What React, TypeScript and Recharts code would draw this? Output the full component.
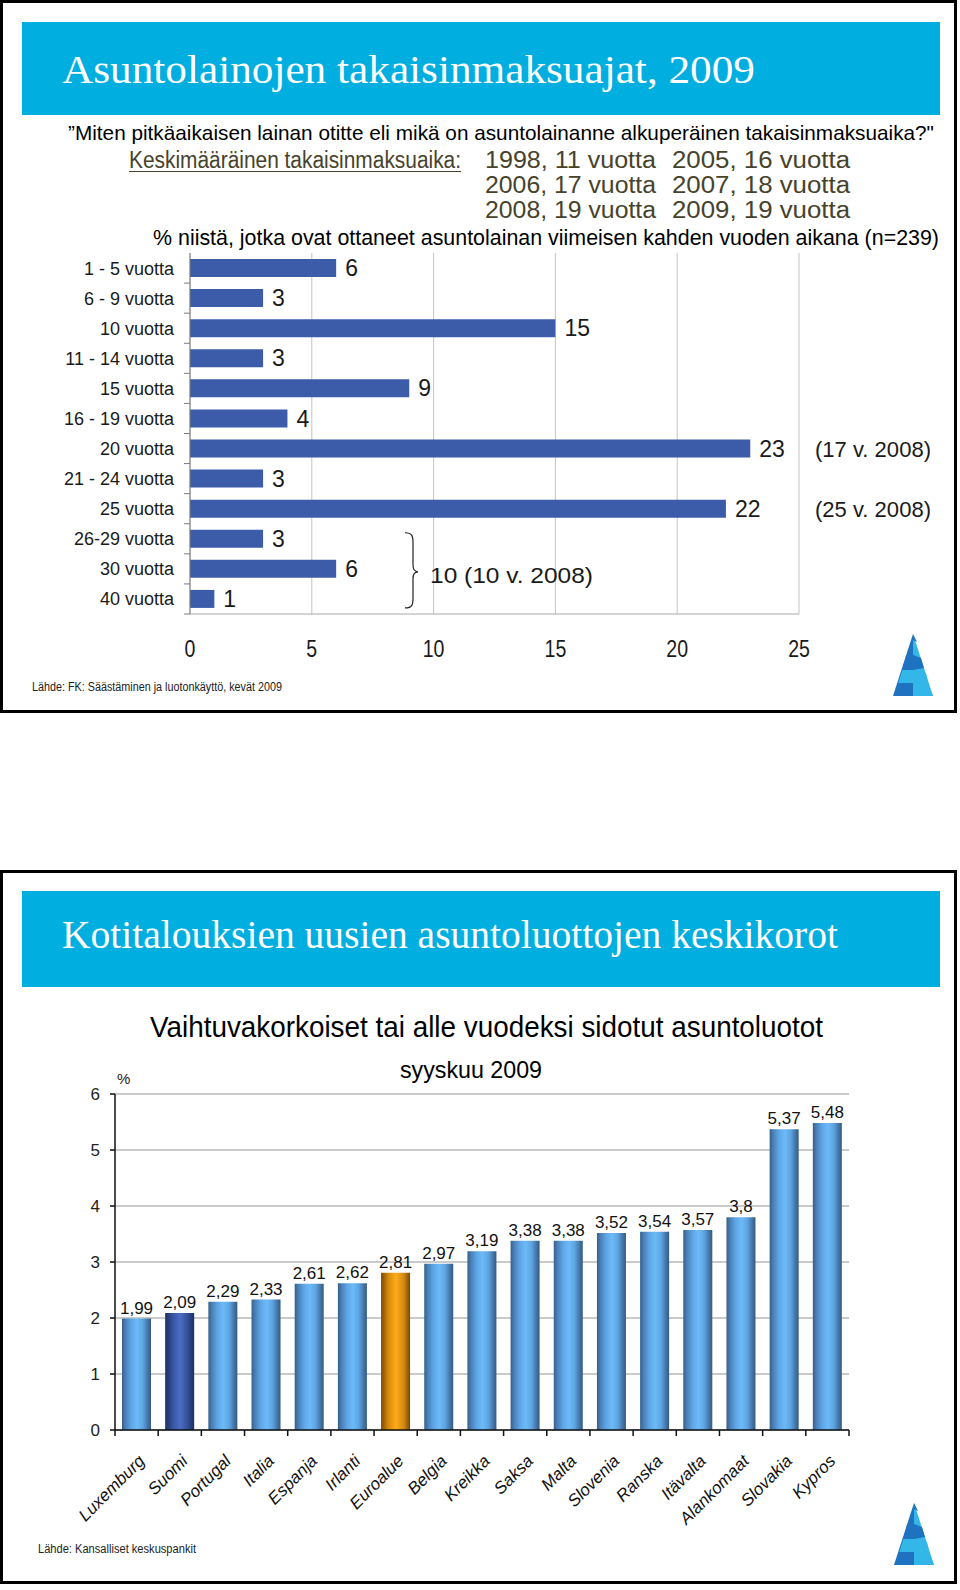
import React from 'react';
import { BarChart, Bar, XAxis, YAxis, CartesianGrid, LabelList, Cell } from 'recharts';

// ---------- Data: chart 1 (loan terms) ----------
const termCategories = ['1 - 5 vuotta', '6 - 9 vuotta', '10 vuotta', '11 - 14 vuotta', '15 vuotta', '16 - 19 vuotta', '20 vuotta', '21 - 24 vuotta', '25 vuotta', '26-29 vuotta', '30 vuotta', '40 vuotta'];
const termShares = [6, 3, 15, 3, 9, 4, 23, 3, 22, 3, 6, 1];
const termSideNotes = ['', '', '', '', '', '', '(17 v. 2008)', '', '(25 v. 2008)', '', '', ''];
const termGroupNotes = ['', '', '', '', '', '', '', '', '', '', '10 (10 v. 2008)', ''];
const termTicks = [0, 5, 10, 15, 20, 25];

const avgTermRows = [
  ['1998, 11 vuotta', '2005, 16 vuotta'],
  ['2006, 17 vuotta', '2007, 18 vuotta'],
  ['2008, 19 vuotta', '2009, 19 vuotta'],
];

// ---------- Data: chart 2 (interest rates) ----------
const countries = ['Luxemburg', 'Suomi', 'Portugal', 'Italia', 'Espanja', 'Irlanti', 'Euroalue', 'Belgia', 'Kreikka', 'Saksa', 'Malta', 'Slovenia', 'Ranska', 'Itävalta', 'Alankomaat', 'Slovakia', 'Kypros'];
const rates = [1.99, 2.09, 2.29, 2.33, 2.61, 2.62, 2.81, 2.97, 3.19, 3.38, 3.38, 3.52, 3.54, 3.57, 3.8, 5.37, 5.48];
const rateTicks = [0, 1, 2, 3, 4, 5, 6];
const homeCountry = 'Suomi';
const euroArea = 'Euroalue';

const termData = termCategories.map((name, i) => ({
  name,
  value: termShares[i],
  sideNote: termSideNotes[i],
  groupNote: termGroupNotes[i],
}));
const rateData = countries.map((name, i) => ({ name, value: rates[i] }));

// ---------- Layout ----------
const SANS = "'Liberation Sans', Arial, sans-serif";
const NARROW = "'Liberation Sans Narrow', 'Arial Narrow', 'Liberation Sans', Arial, sans-serif";
const SERIF = "'Liberation Serif', 'Times New Roman', serif";
const CYAN = '#00AEE0';

const C1_TOP = 240;
const C1_H = 440;
const C1_MARGIN = { top: 13, right: 161, bottom: 16, left: 0 };
const C1_YW = 190;
const C1_XH = 50;
const C1_PLOT_H = C1_H - C1_MARGIN.top - C1_MARGIN.bottom - C1_XH;
const C1_PLOT_RIGHT = 960 - C1_MARGIN.right;

const C2_TOP = 1080;
const C2_H = 460;
const C2_MARGIN = { top: 14, right: 111, bottom: 10, left: 0 };
const C2_YW = 115;
const C2_XH = 100;
const C2_PLOT_W = 960 - C2_MARGIN.right - C2_MARGIN.left - C2_YW;

const TermTick = (props: any) => {
  const { x, y, payload, index } = props;
  const band = C1_PLOT_H / termCategories.length;
  const last = index === termCategories.length - 1;
  return (
    <g>
      {index > 0 && <line x1={x - 6} x2={x} y1={y - band / 2} y2={y - band / 2} stroke="#7a7a7a" strokeWidth={1} />}
      {last && <line x1={x - 6} x2={x} y1={y + band / 2} y2={y + band / 2} stroke="#7a7a7a" strokeWidth={1} />}
      <text x={x - 16} y={y + 6.5} textAnchor="end" fontSize={18} fill="#1a1a1a" fontFamily={SANS}>
        {payload.value}
      </text>
    </g>
  );
};

const ShareTick = (props: any) => {
  const { x, y, payload } = props;
  return (
    <text transform={`translate(${x},${y + 43}) scale(0.85,1)`} textAnchor="middle" fontSize={23} fill="#1a1a1a" fontFamily={NARROW}>
      {payload.value}
    </text>
  );
};

const getBox = (props: any) => {
  const vb = props.viewBox && typeof props.viewBox.y === 'number' ? props.viewBox : props;
  return { x: Number(vb.x), y: Number(vb.y), width: Number(vb.width), height: Number(vb.height) };
};

const SideNote = (props: any) => {
  const { value } = props;
  if (!value) return null;
  const b = getBox(props);
  const cy = b.y + b.height / 2;
  return (
    <text x={C1_PLOT_RIGHT + 16} y={cy + 8} fontSize={22} fill="#1a1a1a" fontFamily={SANS} textLength={116} lengthAdjust="spacingAndGlyphs">
      {value}
    </text>
  );
};

const GroupNote = (props: any) => {
  const { value } = props;
  if (!value) return null;
  const b = getBox(props);
  const band = C1_PLOT_H / termCategories.length;
  const cy = b.y + b.height / 2;
  const x0 = 405;
  const y0 = cy - band * 1.2;
  const y1 = cy + band * 1.3;
  const ym = cy + 3;
  const d = `M ${x0} ${y0} C ${x0 + 7} ${y0} ${x0 + 8} ${y0 + 3} ${x0 + 8} ${y0 + 10} L ${x0 + 8} ${ym - 7} C ${x0 + 8} ${ym - 2} ${x0 + 10} ${ym} ${x0 + 13} ${ym} C ${x0 + 10} ${ym} ${x0 + 8} ${ym + 2} ${x0 + 8} ${ym + 7} L ${x0 + 8} ${y1 - 10} C ${x0 + 8} ${y1 - 3} ${x0 + 7} ${y1} ${x0} ${y1}`;
  return (
    <g>
      <path d={d} fill="none" stroke="#222" strokeWidth={1.2} />
      <text x={x0 + 25} y={cy + 14} fontSize={22} fill="#1a1a1a" fontFamily={SANS} textLength={163} lengthAdjust="spacingAndGlyphs">
        {value}
      </text>
    </g>
  );
};

const CountryTick = (props: any) => {
  const { x, y, payload, index } = props;
  const band = C2_PLOT_W / countries.length;
  const last = index === countries.length - 1;
  return (
    <g>
      <line x1={x - band / 2} x2={x - band / 2} y1={y} y2={y + 6} stroke="#111" strokeWidth={1.5} />
      {last && <line x1={x + band / 2} x2={x + band / 2} y1={y} y2={y + 6} stroke="#111" strokeWidth={1.5} />}
      <text transform={`translate(${x + 9},${y + 32}) rotate(-45)`} textAnchor="end" fontSize={17} fontStyle="italic" fill="#111" fontFamily={SANS}>
        {payload.value}
      </text>
    </g>
  );
};

const barFill = (name: string) =>
  name === homeCountry ? 'url(#gSuomi)' : name === euroArea ? 'url(#gEuro)' : 'url(#gBlue)';

const Logo = ({ left, top }: { left: number; top: number }) => (
  <svg style={{ position: 'absolute', left, top }} width={44} height={64} viewBox="0 0 44 64">
    <polygon points="22,0 2,62 22,62" fill="#1f72c0" />
    <polygon points="22,0 42,62 22,62" fill="#33b6e8" />
    <polygon points="22,0 26,8 22,6" fill="#1f72c0" />
    <polygon points="15.2,21 22,21 30,24 33,34 22,36 11.4,36" fill="#1f72c0" />
    <polygon points="11.4,36 22,36 35,39 37,49 22,49 7.2,49" fill="#33b6e8" />
    <polygon points="22,49 37,50 42,62 22,62" fill="#33b6e8" />
  </svg>
);

const W = (t: string, len: number, x: number, y: number, size: number, extra: any = {}) => (
  <text x={x} y={y} fontSize={size} textLength={len} lengthAdjust="spacingAndGlyphs" {...extra}>
    {t}
  </text>
);

export default function App() {
  return (
    <div style={{ position: 'relative', width: 960, height: 1590, background: '#fff', overflow: 'hidden' }}>
      <style>{`body{margin:0;padding:0;background:#fff}`}</style>
      <svg width={0} height={0} style={{ position: 'absolute' }}>
        <defs>
          <linearGradient id="gBlue" x1="0" y1="0" x2="1" y2="0">
            <stop offset="0%" stopColor="#365f8a" />
            <stop offset="12%" stopColor="#4a7fb6" />
            <stop offset="32%" stopColor="#5ea6e6" />
            <stop offset="52%" stopColor="#6dbaf8" />
            <stop offset="72%" stopColor="#5ea4e2" />
            <stop offset="88%" stopColor="#4678ab" />
            <stop offset="100%" stopColor="#335a82" />
          </linearGradient>
          <linearGradient id="gSuomi" x1="0" y1="0" x2="1" y2="0">
            <stop offset="0%" stopColor="#1c2f63" />
            <stop offset="30%" stopColor="#3b59a8" />
            <stop offset="52%" stopColor="#4c6cc4" />
            <stop offset="75%" stopColor="#36529c" />
            <stop offset="100%" stopColor="#1c2f63" />
          </linearGradient>
          <linearGradient id="gEuro" x1="0" y1="0" x2="1" y2="0">
            <stop offset="0%" stopColor="#7a4806" />
            <stop offset="25%" stopColor="#d68a0c" />
            <stop offset="52%" stopColor="#ffab1a" />
            <stop offset="78%" stopColor="#d38a10" />
            <stop offset="100%" stopColor="#7a4806" />
          </linearGradient>
        </defs>
      </svg>

      {/* Panel frames */}
      <div style={{ position: 'absolute', left: 0, top: 0, width: 957, height: 713, border: '3px solid #000', boxSizing: 'border-box' }} />
      <div style={{ position: 'absolute', left: 22, top: 22, width: 918, height: 93, background: CYAN }} />
      <div style={{ position: 'absolute', left: 0, top: 870, width: 957, height: 714, border: '3px solid #000', boxSizing: 'border-box' }} />
      <div style={{ position: 'absolute', left: 22, top: 891, width: 918, height: 96, background: CYAN }} />

      {/* Texts */}
      <svg style={{ position: 'absolute', left: 0, top: 0 }} width={960} height={1590}>
        {W('Asuntolainojen takaisinmaksuajat, 2009', 693, 62, 83, 41, { fill: '#fff', fontFamily: SERIF })}
        {W('”Miten pitkäaikaisen lainan otitte eli mikä on asuntolainanne alkuperäinen takaisinmaksuaika?"', 866, 68, 140, 21, { fill: '#000', fontFamily: NARROW })}
        {W('Keskimääräinen takaisinmaksuaika:', 332, 129, 168, 23, { fill: '#46422c', fontFamily: NARROW })}
        <line x1={129} x2={461} y1={171.5} y2={171.5} stroke="#46422c" strokeWidth={1.2} />
        {avgTermRows.map((row, i) => (
          <g key={i}>
            {W(row[0], 171, 485, 168 + i * 25, 23, { fill: '#46422c', fontFamily: NARROW })}
            {W(row[1], 178, 672, 168 + i * 25, 23, { fill: '#46422c', fontFamily: NARROW })}
          </g>
        ))}
        {W('% niistä, jotka ovat ottaneet asuntolainan viimeisen kahden vuoden aikana (n=239)', 786, 153, 245, 22, { fill: '#000', fontFamily: NARROW })}
        {W('Lähde: FK: Säästäminen ja luotonkäyttö, kevät 2009', 250, 32, 691, 12, { fill: '#222', fontFamily: NARROW })}

        {W('Kotitalouksien uusien asuntoluottojen keskikorot', 776, 62, 948, 41, { fill: '#fff', fontFamily: SERIF })}
        {W('Vaihtuvakorkoiset tai alle vuodeksi sidotut asuntoluotot', 673, 150, 1037, 29, { fill: '#000', fontFamily: NARROW })}
        {W('syyskuu 2009', 142, 400, 1078, 24, { fill: '#000', fontFamily: NARROW })}
        <text x={117} y={1084} fontSize={15} fill="#222" fontFamily={SANS}>%</text>
        {W('Lähde: Kansalliset keskuspankit', 158, 38, 1553, 12, { fill: '#222', fontFamily: NARROW })}
      </svg>

      <Logo left={891} top={634} />
      <Logo left={892} top={1503} />

      {/* Chart 1 */}
      <div style={{ position: 'absolute', left: 0, top: C1_TOP }}>
        <BarChart width={960} height={C1_H} data={termData} layout="vertical" margin={C1_MARGIN}>
          <CartesianGrid horizontal={false} vertical={true} stroke="#c4c4c4" />
          <XAxis
            type="number"
            domain={[0, 25]}
            ticks={termTicks}
            height={C1_XH}
            axisLine={{ stroke: '#a8a8a8' }}
            tickLine={false}
            tickSize={0}
            tickMargin={0}
            tick={<ShareTick />}
            interval={0}
          />
          <YAxis
            type="category"
            dataKey="name"
            width={C1_YW}
            axisLine={{ stroke: '#7a7a7a' }}
            tickLine={false}
            tickSize={0}
            tickMargin={0}
            tick={<TermTick />}
            interval={0}
          />
          <Bar dataKey="value" fill="#3C5BA9" barSize={18} isAnimationActive={false}>
            <LabelList dataKey="value" position="right" offset={9} style={{ fontSize: 23, fill: '#1a1a1a', fontFamily: SANS }} />
            <LabelList dataKey="sideNote" content={<SideNote />} />
            <LabelList dataKey="groupNote" content={<GroupNote />} />
          </Bar>
        </BarChart>
      </div>

      {/* Chart 2 */}
      <div style={{ position: 'absolute', left: 0, top: C2_TOP }}>
        <BarChart width={960} height={C2_H} data={rateData} margin={C2_MARGIN}>
          <CartesianGrid horizontal={true} vertical={false} stroke="#b8b8b8" strokeWidth={1.5} />
          <XAxis
            dataKey="name"
            height={C2_XH}
            interval={0}
            axisLine={{ stroke: '#111', strokeWidth: 1.5 }}
            tickLine={false}
            tickSize={0}
            tickMargin={0}
            tick={<CountryTick />}
          />
          <YAxis
            domain={[0, 6]}
            ticks={rateTicks}
            width={C2_YW}
            axisLine={{ stroke: '#111', strokeWidth: 1.5 }}
            tickLine={{ stroke: '#111', strokeWidth: 1.5 }}
            tickSize={5}
            tickMargin={10}
            tick={{ fontSize: 17, fill: '#222', fontFamily: SANS }}
            interval={0}
          />
          <YAxis
            yAxisId="frame"
            orientation="right"
            width={0}
            domain={[0, 1]}
            axisLine={{ stroke: '#a8a8a8', strokeWidth: 1.5 }}
            tick={false}
            tickLine={false}
          />
          <Bar dataKey="value" barSize={29} isAnimationActive={false}>
            {rateData.map((d) => (
              <Cell key={d.name} fill={barFill(d.name)} />
            ))}
            <LabelList
              dataKey="value"
              position="top"
              offset={5}
              formatter={(v: any) => String(v).replace('.', ',')}
              style={{ fontSize: 17, fill: '#111', fontFamily: SANS }}
            />
          </Bar>
        </BarChart>
      </div>
    </div>
  );
}
